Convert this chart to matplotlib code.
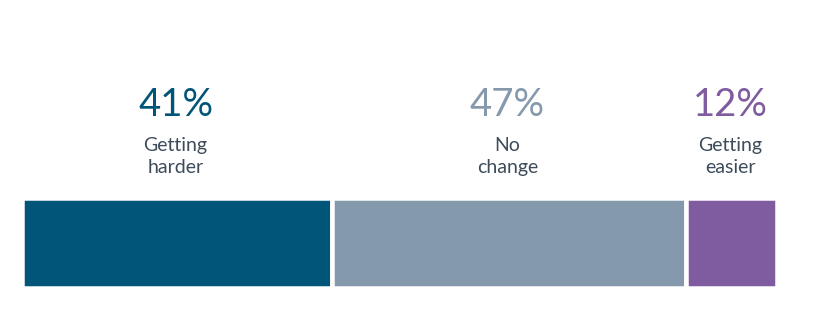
import matplotlib
matplotlib.use("Agg")
import matplotlib.pyplot as plt
import numpy as np

categories = ["Getting\nharder", "No\nchange", "Getting\neasier"]
values = [41, 47, 12]
colors = ["#005579", "#8599AD", "#7F5BA0"]
label_color = "#3D4B5A"

W, H, DPI = 832, 335, 100
fig = plt.figure(figsize=(W / DPI, H / DPI), dpi=DPI)
# axes in pixel coordinates
x0, x1 = 22.25, 776.75
y_top, y_bot = 197.75, 288.25
ax = fig.add_axes([x0 / W, 1 - y_bot / H, (x1 - x0) / W, (y_bot - y_top) / H])

lefts = np.concatenate([[0], np.cumsum(values)[:-1]])
ax.barh([0], values, left=lefts, height=1.0, color=colors,
        edgecolor="white", linewidth=4.5 * 72 / DPI)
ax.set_xlim(0, sum(values))
ax.set_ylim(-0.5, 0.5)
ax.axis("off")

tr = ax.get_xaxis_transform()
fam = ["Lato", "DejaVu Sans"]
for left, v, cat, c in zip(lefts, values, categories, colors):
    cx = left + v / 2
    ax.annotate(f"{v}%", xy=(cx, 1), xycoords=tr, xytext=(-1, 81.75 * 0.72),
                textcoords="offset points", ha="center", va="baseline",
                fontsize=27.5, color=c, family=fam)
    lines = cat.split("\n")
    offs = [46.75, 24.75]
    for line, o in zip(lines, offs):
        ax.annotate(line, xy=(cx, 1), xycoords=tr, xytext=(-1, o * 0.72),
                    textcoords="offset points", ha="center", va="baseline",
                    fontsize=14, color=label_color, family=fam)

fig.savefig("out.png", dpi=DPI)
